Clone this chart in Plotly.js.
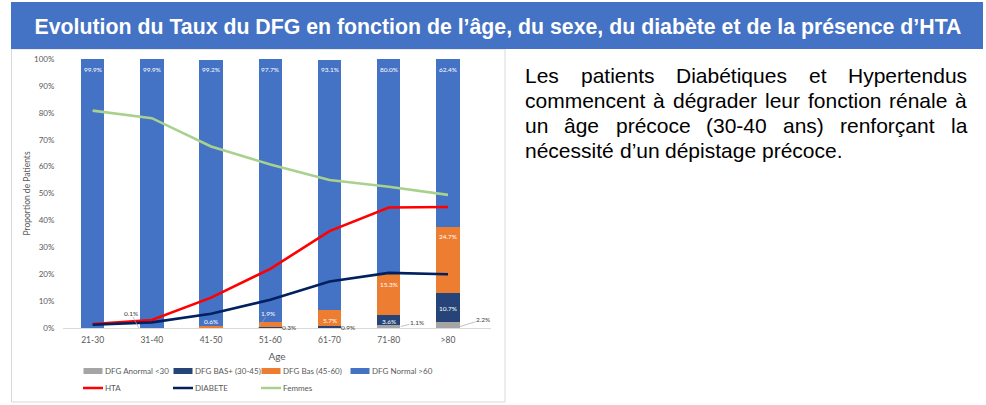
<!DOCTYPE html>
<html>
<head>
<meta charset="utf-8">
<script src="https://cdn.plot.ly/plotly-3.0.1.min.js"></script>
<style>
html,body{margin:0;padding:0;background:#fff;}
#chart{width:986px;height:405px;}
</style>
</head>
<body>
<div id="chart"></div>
<script>
// ---------- DATA ----------
const categories = ['21-30','31-40','41-50','51-60','61-70','71-80','>80'];
const dfgAnormal = [0, 0, 0, 0, 0, 1.1, 2.2];          // DFG Anormal <30
const dfgBasPlus = [0, 0.1, 0, 0.3, 0.9, 3.6, 10.7];    // DFG BAS+ (30-45)
const dfgBas     = [0, 0, 0.6, 1.9, 5.7, 15.3, 24.7];   // DFG Bas (45-60)
const dfgNormal  = [99.9, 99.9, 99.2, 97.7, 93.1, 80.0, 62.4]; // DFG Normal >60
const hta        = [1.5, 3, 11.3, 22, 36, 44.8, 45];
const diabete    = [1.2, 2.1, 5.3, 10.5, 17.3, 20.5, 20];
const femmes     = [80.8, 78, 67.5, 60.8, 55, 52.5, 49.5];
const yTicks     = [0,10,20,30,40,50,60,70,80,90,100];

const titleText = 'Evolution du Taux du DFG en fonction de l’âge, du sexe, du diabète et de la présence d’HTA';
const noteLines = [
  'Les patients Diabétiques et Hypertendus',
  'commencent à dégrader leur fonction rénale à',
  'un âge précoce (30-40 ans) renforçant la',
  'nécessité d’un dépistage précoce.'
];

// ---------- GEOMETRY / STYLE ----------
const W = 986, H = 405;
const PL = 63, PR = 491, PT = 59, PB = 328;
const px = x => (x - PL) / (PR - PL);
const py = y => (PB - y) / (PB - PT);
const chartFont = 'Lato, "Noto Sans", sans-serif';
const grey = '#595959';

const colors = {
  anormal: '#A5A5A5', basPlus: '#264478', bas: '#ED7D31', normal: '#4472C4',
  hta: '#FF0000', diabete: '#002060', femmes: '#A9D18E'
};

// legend slot (pixel origin of each entry)
const legendSlots = [[65,371],[155,371],[243,371],[332,371],[65,388],[155,388],[243,388]];

const series = [
  {key:'anormal', name:'DFG Anormal &lt;30', vals:dfgAnormal},
  {key:'basPlus', name:'DFG BAS+ (30-45)', vals:dfgBasPlus},
  {key:'bas',     name:'DFG Bas (45-60)', vals:dfgBas},
  {key:'normal',  name:'DFG Normal &gt;60', vals:dfgNormal}
];
const lineSeries = [['HTA', hta, 'hta'], ['DIABETE', diabete, 'diabete'], ['Femmes', femmes, 'femmes']];

const legendId = k => k === 0 ? 'legend' : 'legend' + (k + 1);

const traces = [];
series.forEach((s, k) => {
  traces.push({
    type:'bar', x:categories, y:s.vals, name:s.name,
    marker:{color:colors[s.key], line:{width:0}},
    hoverinfo:'skip', legend:legendId(k)
  });
});
lineSeries.forEach(([n, v, key], j) => {
  traces.push({
    type:'scatter', mode:'lines', x:categories, y:v, name:n,
    line:{color:colors[key], width:2.6}, hoverinfo:'skip', legend:legendId(series.length + j)
  });
});

// ---------- DATA LABELS ----------
const labelRule = {normal:'end', bas:'end', basPlus:'center', anormal:'center'};
// pixel offsets for the small, displaced labels
const labelOverrides = {
  'bas-2':     {yAt:'top', yshift:4.5, color:'#fff'},
  'bas-3':     {arrow:true, yAt:'zero', xshift:-12, ax:10, ay:-15, color:'#fff'},
  'basPlus-1': {arrow:true, yAt:'zero', xshift:-13, ax:-8, ay:-15, color:'#404040'},
  'basPlus-3': {yAt:'mid', xshift:19, yshift:0, color:'#404040'},
  'basPlus-4': {yAt:'mid', xshift:18, yshift:-1, color:'#404040'},
  'anormal-5': {arrow:true, yAt:'mid', xshift:12, ax:16, ay:-4, color:'#404040'},
  'anormal-6': {arrow:true, yAt:'low', xshift:12, ax:23, ay:-7, color:'#404040'}
};
const annotations = [];
const base = categories.map(() => 0);
series.forEach(s => {
  s.vals.forEach((v, i) => {
    const b = base[i], top = b + v;
    base[i] = top;
    if (!v) return;
    const txt = v.toFixed(1) + '%';
    const ov = labelOverrides[s.key + '-' + i];
    const a = {x:categories[i], xref:'x', yref:'y', text:txt, showarrow:false,
      font:{family:chartFont, size:6.5, color:'#fff'}, xanchor:'center', yanchor:'middle', borderpad:0};
    if (ov) {
      const yMap = {top:top, zero:0, mid:b + v/2, low:b + v*0.25};
      a.y = yMap[ov.yAt];
      a.font.color = ov.color;
      a.xshift = ov.xshift || 0;
      a.yshift = ov.yshift || 0;
      if (ov.arrow) {
        a.showarrow = true; a.ax = ov.ax; a.ay = ov.ay; a.arrowhead = 0;
        a.arrowwidth = 0.7; a.arrowcolor = '#A6A6A6'; a.standoff = 0;
      }
    } else if (labelRule[s.key] === 'end') {
      a.y = top; a.yshift = -10;
    } else {
      a.y = b + v/2; a.yshift = -1;
    }
    annotations.push(a);
  });
});

// ---------- SIDE TEXT (justified, word by word) ----------
const noteFont = 21, noteLeft = 524, noteRight = 966, noteBase0 = 83, noteStep = 25;
const ctx = document.createElement('canvas').getContext('2d');
ctx.font = noteFont + 'px "Liberation Sans"';
noteLines.forEach((line, li) => {
  const words = line.split(' ');
  const widths = words.map(w => ctx.measureText(w).width);
  const total = widths.reduce((p, c) => p + c, 0);
  const justify = li < noteLines.length - 1;
  const gap = justify ? (noteRight - noteLeft - total) / (words.length - 1) : ctx.measureText(' ').width;
  let cx = noteLeft;
  const cy = noteBase0 + li * noteStep - 7.5;
  words.forEach((w, wi) => {
    annotations.push({xref:'paper', yref:'paper', x:px(cx), y:py(cy), xanchor:'left', yanchor:'middle',
      text:w, showarrow:false, borderpad:0,
      font:{family:'"Liberation Sans", Arial, sans-serif', size:noteFont, color:'#000'}});
    cx += widths[wi] + gap;
  });
});

// ---------- LAYOUT ----------
const shapes = [
  {type:'rect', xref:'paper', yref:'paper', x0:px(11.5), x1:px(505), y0:py(402), y1:py(49),
   line:{color:'#D9D9D9', width:1}, fillcolor:'#fff', layer:'below'},
  {type:'rect', xref:'paper', yref:'paper', x0:px(11), x1:px(983), y0:py(49), y1:py(2),
   line:{width:0}, fillcolor:'#4472C4', layer:'below'}
];

const layout = {
  width:W, height:H,
  margin:{l:PL, r:W-PR, t:PT, b:H-PB, pad:0, autoexpand:false},
  paper_bgcolor:'#fff', plot_bgcolor:'#fff',
  title:{text:'<b>' + titleText + '</b>', xref:'container', yref:'container', x:498/W, y:1 - 26.5/H,
    xanchor:'center', yanchor:'middle', font:{family:'"Liberation Sans", Arial, sans-serif', size:21.3, color:'#fff'}},
  barmode:'stack', bargap:0.605,
  showlegend:true,
  xaxis:{type:'category', categoryorder:'array', categoryarray:categories, automargin:false,
    showline:true, linecolor:'#D9D9D9', linewidth:1, showgrid:false, zeroline:false,
    ticks:'outside', ticklen:4, tickcolor:'rgba(0,0,0,0)',
    tickfont:{family:chartFont, size:8.5, color:grey},
    title:{text:'Age', font:{family:chartFont, size:10, color:grey}, standoff:8}},
  yaxis:{range:[0,100], tickvals:yTicks, ticktext:yTicks.map(v => v + '%'), automargin:false,
    showline:false, showgrid:false, zeroline:false,
    ticks:'outside', ticklen:6, tickcolor:'rgba(0,0,0,0)',
    tickfont:{family:chartFont, size:8, color:grey},
    title:{text:'Proportion de Patients', font:{family:chartFont, size:8.5, color:grey}, standoff:2}},
  shapes:shapes,
  annotations:annotations
};
legendSlots.forEach(([lx, ly], k) => {
  layout[legendId(k)] = {orientation:'h', xanchor:'left', yanchor:'middle', x:px(lx), y:py(ly),
    font:{family:chartFont, size:8, color:grey}, bgcolor:'rgba(0,0,0,0)', itemwidth:30, borderwidth:0};
});

Plotly.newPlot('chart', traces, layout, {staticPlot:true, displayModeBar:false}).then(gd => {
  // Excel-like legend keys: wide flat swatches and short lines right before the text
  gd.querySelectorAll('.legendpoints path').forEach(p => {
    const d = p.getAttribute('d') || '';
    if (/H-6V-6/.test(d) || /^M6,6/.test(d)) {
      p.setAttribute('d', 'M-9.5,-3H9.5V3H-9.5Z');
      p.setAttribute('transform', 'translate(28,0)');
    }
  });
  gd.querySelectorAll('g.legendlines path.js-line').forEach(p => {
    p.setAttribute('d', 'M18,0h20');
  });
});
</script>
</body>
</html>
